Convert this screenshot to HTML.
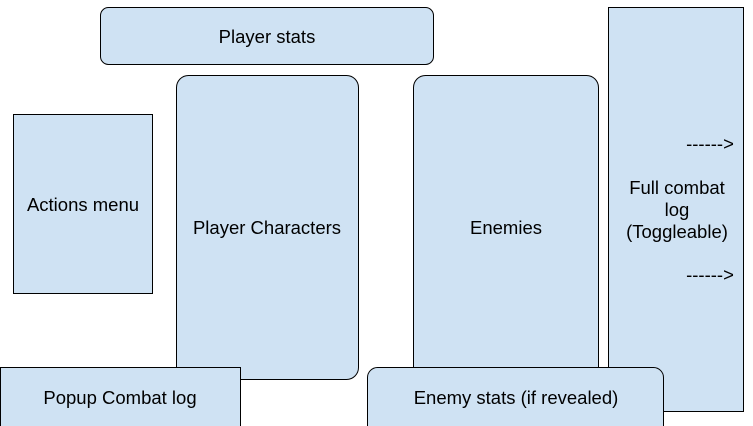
<!DOCTYPE html>
<html><head><style>html,body{margin:0;padding:0;background:#fff;overflow:hidden}svg{display:block}</style></head>
<body>
<svg width="753" height="426" viewBox="0 0 753 426" xmlns="http://www.w3.org/2000/svg" font-family="Liberation Sans, Arial, sans-serif" font-size="18.5" fill="#000">
<g fill="#cfe2f3" stroke="#000" stroke-width="1">
<rect x="100.5" y="7.5" width="333" height="57" rx="8"/>
<rect x="13.5" y="114.5" width="139" height="179"/>
<rect x="176.5" y="75.5" width="182" height="304" rx="12"/>
<rect x="413.5" y="75.5" width="185" height="320" rx="12"/>
<rect x="608.5" y="7.5" width="135" height="404"/>
<rect x="0.5" y="367.5" width="240" height="70"/>
<rect x="367.5" y="367.5" width="296" height="70" rx="10"/>
</g>
<g text-anchor="middle" stroke="none" fill="#000">
<text x="267" y="43">Player stats</text>
<text x="83" y="211">Actions menu</text>
<text x="267" y="234">Player Characters</text>
<text x="506" y="234">Enemies</text>
<text x="677" y="194">Full combat</text>
<text x="677" y="216">log</text>
<text x="677" y="238">(Toggleable)</text>
<text x="710" y="150">------&gt;</text>
<text x="710" y="281">------&gt;</text>
<text x="120" y="404">Popup Combat log</text>
<text x="516" y="404">Enemy stats (if revealed)</text>
</g>
</svg>
</body></html>
